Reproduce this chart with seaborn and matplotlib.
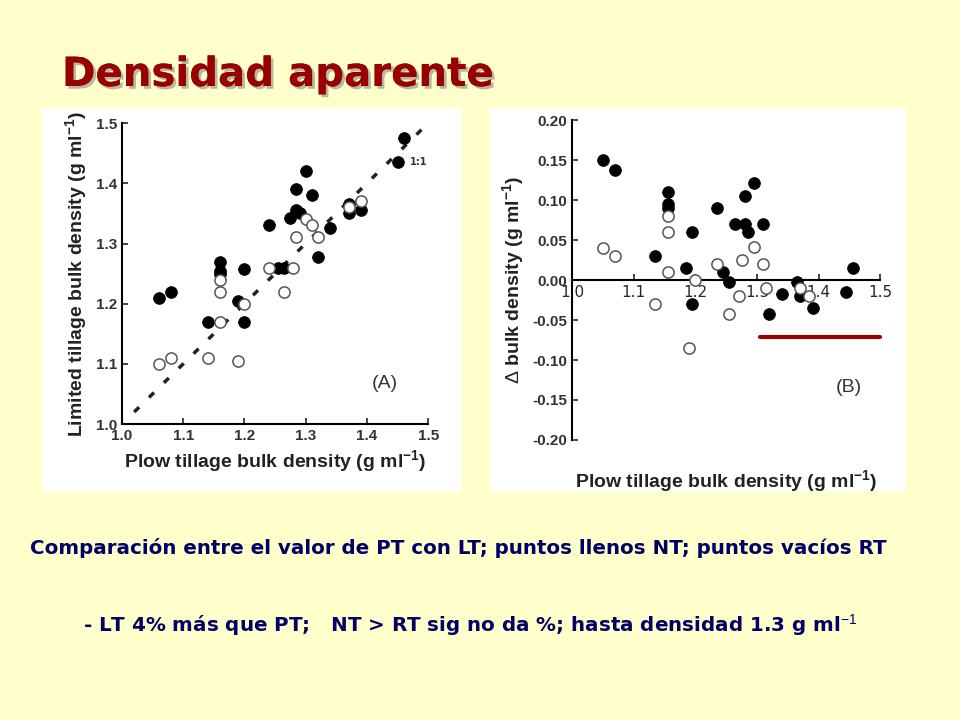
import matplotlib
matplotlib.use("Agg")
import matplotlib.pyplot as plt
import matplotlib.patheffects as pe
from matplotlib.lines import Line2D
from matplotlib.patches import Rectangle
import seaborn as sns
import pandas as pd

# panel A: plow tillage vs limited tillage bulk density
a_nt_x = [1.06, 1.08, 1.14, 1.16, 1.16, 1.16, 1.19, 1.20, 1.20, 1.24, 1.255, 1.265, 1.275,
          1.285, 1.285, 1.29, 1.30, 1.31, 1.32, 1.34, 1.37, 1.37, 1.39, 1.45, 1.46]
a_nt_y = [1.21, 1.22, 1.17, 1.27, 1.255, 1.25, 1.205, 1.17, 1.258, 1.33, 1.26, 1.26, 1.343,
          1.39, 1.355, 1.35, 1.42, 1.38, 1.278, 1.325, 1.35, 1.365, 1.355, 1.435, 1.475]
a_rt_x = [1.06, 1.08, 1.14, 1.16, 1.16, 1.16, 1.19, 1.20, 1.24, 1.265, 1.28, 1.285, 1.30,
          1.31, 1.32, 1.37, 1.39]
a_rt_y = [1.10, 1.11, 1.11, 1.17, 1.22, 1.24, 1.105, 1.20, 1.26, 1.22, 1.26, 1.31, 1.34,
          1.33, 1.31, 1.36, 1.37]

# panel B: delta bulk density
b_nt_x = [1.05, 1.07, 1.135, 1.155, 1.155, 1.155, 1.185, 1.195, 1.195, 1.235, 1.245, 1.255,
          1.265, 1.28, 1.28, 1.285, 1.295, 1.31, 1.32, 1.34, 1.365, 1.37, 1.39, 1.445, 1.455]
b_nt_y = [0.15, 0.138, 0.03, 0.11, 0.095, 0.09, 0.015, 0.06, -0.03, 0.09, 0.01, -0.003,
          0.07, 0.07, 0.105, 0.06, 0.122, 0.07, -0.042, -0.017, -0.002, -0.02, -0.035, -0.015, 0.015]
b_rt_x = [1.05, 1.07, 1.135, 1.155, 1.155, 1.155, 1.19, 1.20, 1.235, 1.255, 1.27, 1.275,
          1.295, 1.31, 1.315, 1.37, 1.385]
b_rt_y = [0.04, 0.03, -0.03, 0.08, 0.06, 0.01, -0.085, 0.0, 0.02, -0.043, -0.02, 0.025,
          0.042, 0.02, -0.01, -0.01, -0.02]

a_ticks = [1.0, 1.1, 1.2, 1.3, 1.4, 1.5]
b_yticks = [0.20, 0.15, 0.10, 0.05, 0.00, -0.05, -0.10, -0.15, -0.20]

sns.set_theme(style="white")
plt.rcParams["mathtext.fontset"] = "custom"
plt.rcParams["mathtext.bf"] = "Liberation Sans:bold"
plt.rcParams["mathtext.rm"] = "Liberation Sans"
bg = "#FFFFCC"
fig = plt.figure(figsize=(9.6, 7.2), dpi=100, facecolor=bg)

# white image areas
fig.add_artist(Rectangle((42 / 960, 1 - 490 / 720), 418 / 960, 382 / 720,
                         transform=fig.transFigure, color="white", zorder=0))
fig.add_artist(Rectangle((490 / 960, 1 - 490 / 720), 415 / 960, 382 / 720,
                         transform=fig.transFigure, color="white", zorder=0))


def draw_points(ax, x_nt, y_nt, x_rt, y_rt):
    df_nt = pd.DataFrame({"x": x_nt, "y": y_nt})
    df_rt = pd.DataFrame({"x": x_rt, "y": y_rt})
    sns.scatterplot(data=df_nt, x="x", y="y", ax=ax, color="black", edgecolor="black",
                    s=70, zorder=3)
    sns.scatterplot(data=df_rt, x="x", y="y", ax=ax, facecolor="white", edgecolor="#555555",
                    linewidth=1.1, s=65, zorder=3)


tick_font = dict(fontsize=11, fontweight="bold", color="#333333", family="Liberation Sans")
label_font = dict(fontsize=14, fontweight="bold", color="#222222", family="Liberation Sans")

# --- panel A ---
axA = fig.add_axes([0.127, 0.411, 0.319, 0.418])
axA.set_facecolor("white")
axA.plot([1.02, 1.5], [1.02, 1.5], color="#222222", linestyle=(0, (2, 4)), linewidth=2.5, zorder=2)
draw_points(axA, a_nt_x, a_nt_y, a_rt_x, a_rt_y)
axA.set_xlim(1.0, 1.5)
axA.set_ylim(1.0, 1.5)
axA.set_xticks(a_ticks)
axA.set_yticks(a_ticks)
axA.set_xticklabels([f"{t:.1f}" for t in a_ticks], **tick_font)
axA.set_yticklabels([f"{t:.1f}" for t in a_ticks], **tick_font)
axA.set_xlabel(r"Plow tillage bulk density (g ml$^{\mathbf{-1}}$)", **label_font)
axA.set_ylabel(r"Limited tillage bulk density (g ml$^{\mathbf{-1}}$)", **label_font)
axA.text(1.47, 1.43, "1:1", fontsize=7, fontweight="bold", color="#333333")
axA.text(1.45, 1.06, "(A)", fontsize=14, ha="right", color="#333333", family="Liberation Sans")
for s in ["top", "right"]:
    axA.spines[s].set_visible(False)
for s in ["left", "bottom"]:
    axA.spines[s].set_color("black")
    axA.spines[s].set_linewidth(1.5)
axA.tick_params(direction="in", length=4, width=1.2, bottom=True, left=True)

# --- panel B ---
axB = fig.add_axes([0.596, 0.389, 0.321, 0.444])
axB.set_facecolor("white")
draw_points(axB, b_nt_x, b_nt_y, b_rt_x, b_rt_y)
axB.set_xlim(1.0, 1.5)
axB.set_ylim(-0.2, 0.2)
axB.set_xticks(a_ticks)
axB.set_yticks(b_yticks)
axB.set_xticklabels([f"{t:.1f}" for t in a_ticks], **tick_font)
axB.set_yticklabels([f"{t:.2f}" for t in b_yticks], **tick_font)
axB.set_xlabel(r"Plow tillage bulk density (g ml$^{\mathbf{-1}}$)", **label_font)
axB.set_ylabel(r"$\Delta$ bulk density (g ml$^{\mathbf{-1}}$)", **label_font)
axB.text(1.47, -0.14, "(B)", fontsize=14, ha="right", color="#333333", family="Liberation Sans")
axB.spines["bottom"].set_position(("data", 0))
for s in ["top", "right"]:
    axB.spines[s].set_visible(False)
for s in ["left", "bottom"]:
    axB.spines[s].set_color("black")
    axB.spines[s].set_linewidth(1.5)
axB.tick_params(direction="in", length=4, width=1.2, bottom=True, left=True)
axB.xaxis.set_label_coords(0.5, -0.09)

# red underline
fig.add_artist(Line2D([760 / 960, 880 / 960], [1 - 337 / 720] * 2, color="#990000",
                      linewidth=3, transform=fig.transFigure))

# title and notes
fig.text(62 / 960, 1 - 75 / 720, "Densidad aparente", fontsize=29, fontweight="bold",
         color="#990000", va="center",
         path_effects=[pe.withSimplePatchShadow(offset=(2, -2), shadow_rgbFace="#888888", alpha=0.6),
                       pe.Normal()])
fig.text(30 / 960, 1 - 548 / 720,
         "Comparación entre el valor de PT con LT; puntos llenos NT; puntos vacíos RT",
         fontsize=14.3, fontweight="bold", color="#000066", va="center")
fig.text(83 / 960, 1 - 625 / 720,
         r"- LT 4% más que PT;   NT > RT sig no da %; hasta densidad 1.3 g ml$^{-1}$",
         fontsize=14.3, fontweight="bold", color="#000066", va="center")

fig.savefig("out.png", dpi=100, facecolor=bg)
